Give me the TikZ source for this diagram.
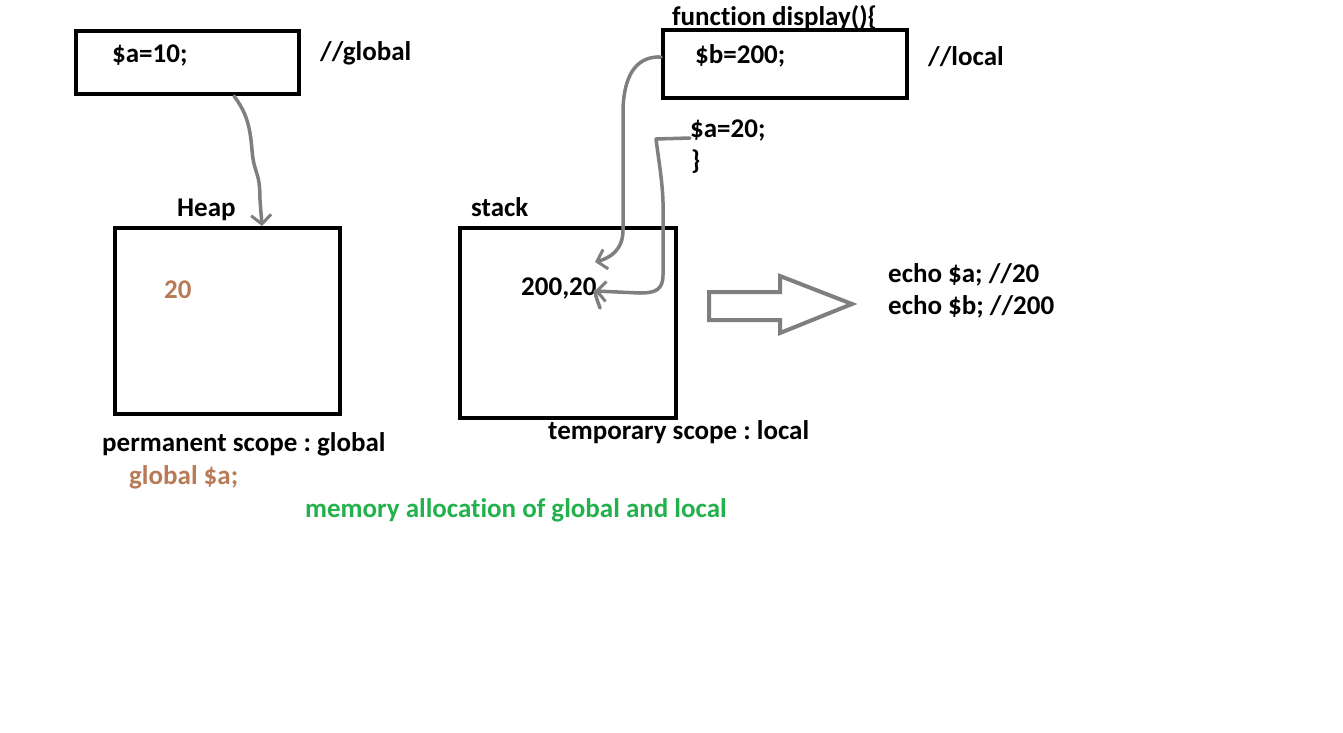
\documentclass[tikz,border=0pt]{standalone}
\usepackage{fontspec}
\setmainfont{Carlito}[Ligatures=NoCommon]
\frenchspacing
\usetikzlibrary{arrows.meta}
\definecolor{pgray}{RGB}{127,127,127}
\definecolor{pbrown}{RGB}{185,122,87}
\definecolor{pgreen}{RGB}{34,177,76}
\begin{document}
\begin{tikzpicture}[x=1pt,y=-1pt,
  txt/.style={anchor=west,inner sep=0pt,font=\fontsize{27}{32}\selectfont\bfseries},
  box/.style={draw=black,line width=4pt,inner sep=0pt},
  conn/.style={draw=pgray,line width=3.5pt,line join=round,line cap=round,
    -{Straight Barb[length=9pt,width=20pt,line width=3pt]}}]
\useasboundingbox (0,0) rectangle (1343,732);
\fill[white] (0,0) rectangle (1343,732);
% boxes
\node[box,minimum width=223pt,minimum height=63pt] (g) at (187.5,62.5) {};
\node[box,minimum width=225pt,minimum height=186pt] (heap) at (227.5,321) {};
\node[box,minimum width=216pt,minimum height=190pt] (stack) at (568,323) {};
\node[box,minimum width=244pt,minimum height=68pt] (f) at (785,64) {};
% texts
\node[txt] (ta10) at (112,55) {\$a=10;};
\node[txt] (tglob) at (320,53) {//global};
\node[txt] (theap) at (177,210) {Heap};
\node[txt,text=pbrown] (t20) at (164,290) {20};
\node[txt] (tstack) at (471,207) {stack};
\node[txt] (t20020) at (521,288) {200,20};
\node[txt] (tfun) at (672,18) {function display()\{};
\node[txt] (tb200) at (695,56) {\$b=200;};
\node[txt] (tlocal) at (928,57) {//local};
\node[txt] (ta20) at (690,130) {\$a=20;};
\node[txt] (tbrace) at (691,162) {\}};
\node[txt] (techoa) at (888,275) {echo \$a; //20};
\node[txt] (techob) at (888,307) {echo \$b; //200};
\node[txt] (tperm) at (102,444) {permanent scope : global};
\node[txt,text=pbrown] (tgl) at (129,477) {global \$a;};
\node[txt] (ttemp) at (548,432) {temporary scope : local};
\node[txt,text=pgreen] (tmem) at (305,510) {memory allocation of global and local};
% connectors
\coordinate (e1) at (262,226);
\draw[conn] (234,96) .. controls (246,112) and (250,125) .. (252,150)
  .. controls (254,175) and (260,170) .. (260,200) -- (e1);
\coordinate (e2) at (595,262);
\draw[conn] (f.west |- 0,57) .. controls (640,56) and (624,70) .. (623,110)
  -- (623,230) .. controls (623,250) and (610,258) .. (e2);
\coordinate (e3) at (595,291);
\draw[conn] (ta20.west |- 0,138) -- (656,139) .. controls (660,170) and (664,190) .. (663,220)
  -- (663,275) .. controls (663,290) and (655,293) .. (640,293) -- (e3);
\draw[pgray,line width=3.5pt,line cap=round] (e3) .. controls (596,298) and (598,302) .. (600,308);
% block arrow
\draw[pgray,line width=4pt,line join=miter] (709,292) -- (780,292) -- (780,276) -- (852,304)
  -- (780,333) -- (780,320) -- (709,320) -- cycle;
\end{tikzpicture}
\end{document}
